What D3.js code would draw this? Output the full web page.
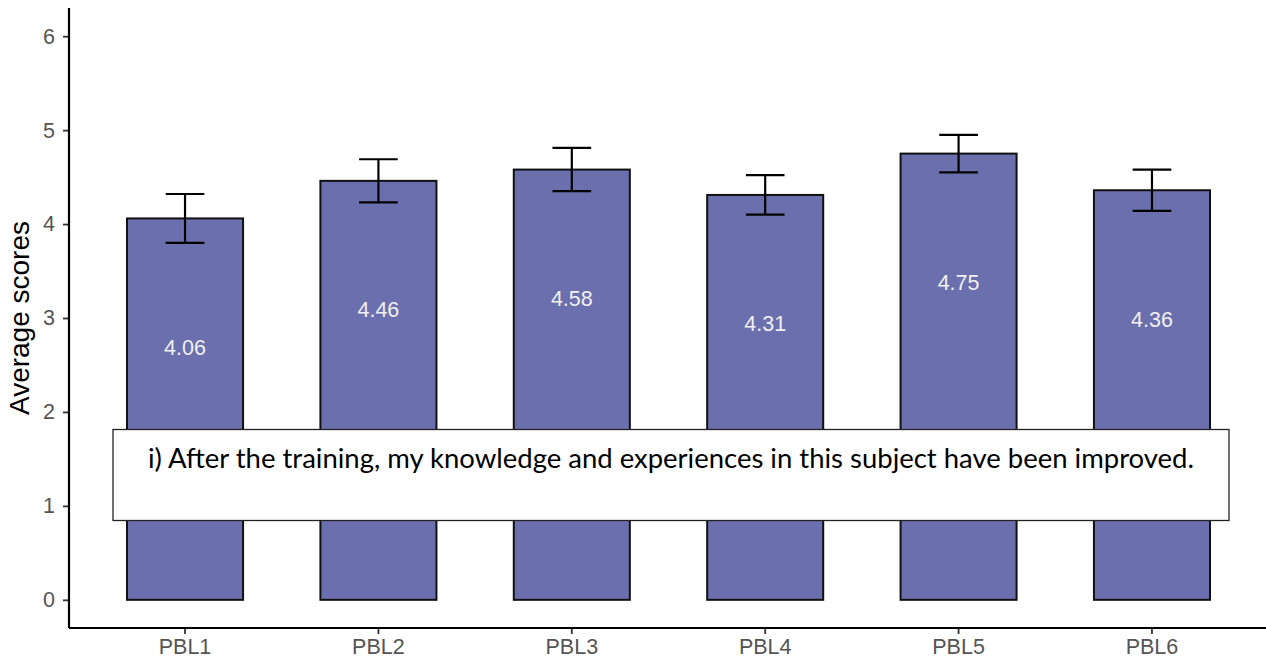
<!DOCTYPE html>
<html>
<head>
<meta charset="utf-8">
<script src="https://cdn.jsdelivr.net/npm/d3@7"></script>
<style>
  html, body { margin: 0; padding: 0; background: #fff; }
  svg { display: block; }
</style>
</head>
<body>
<div id="chart"></div>
<script>
// values
const categories = ['PBL1', 'PBL2', 'PBL3', 'PBL4', 'PBL5', 'PBL6'];
const means = [4.06, 4.46, 4.58, 4.31, 4.75, 4.36];
const errors = [0.26, 0.23, 0.23, 0.21, 0.20, 0.22];
const yTicks = [0, 1, 2, 3, 4, 5, 6];
const caption = 'i) After the training, my knowledge and experiences in this subject have been improved.';

const width = 1266, height = 661;
const panel = { left: 69, right: 1268, top: 8, bottom: 628 };
const sans = '"Liberation Sans", Arial, sans-serif';

const svg = d3.select('#chart').append('svg')
    .attr('width', width)
    .attr('height', height);

const x = d3.scaleBand()
    .domain(categories)
    .range([panel.left, panel.right])
    .paddingInner(0.4)
    .paddingOuter(0.3);

const y = d3.scaleLinear()
    .domain([-0.3, 6.3])
    .range([panel.bottom, panel.top]);

const rows = categories.map((c, i) => ({ cat: c, mean: means[i], err: errors[i] }));
const cx = d => x(d.cat) + x.bandwidth() / 2;

// bars
svg.append('g').selectAll('rect')
    .data(rows)
    .enter().append('rect')
    .attr('x', d => x(d.cat))
    .attr('y', d => y(d.mean))
    .attr('width', x.bandwidth())
    .attr('height', d => y(0) - y(d.mean))
    .attr('fill', '#6b6fae')
    .attr('stroke', '#111')
    .attr('stroke-width', 2);

// error bars
const capW = x.step() * 0.2;
const eb = svg.append('g')
    .attr('stroke', '#000')
    .attr('stroke-width', 2.2)
    .selectAll('g')
    .data(rows)
    .enter().append('g');
eb.append('line')
    .attr('x1', cx).attr('x2', cx)
    .attr('y1', d => y(d.mean + d.err))
    .attr('y2', d => y(d.mean - d.err));
eb.append('line')
    .attr('x1', d => cx(d) - capW / 2)
    .attr('x2', d => cx(d) + capW / 2)
    .attr('y1', d => y(d.mean + d.err))
    .attr('y2', d => y(d.mean + d.err));
eb.append('line')
    .attr('x1', d => cx(d) - capW / 2)
    .attr('x2', d => cx(d) + capW / 2)
    .attr('y1', d => y(d.mean - d.err))
    .attr('y2', d => y(d.mean - d.err));

// value labels inside bars
svg.append('g').selectAll('text')
    .data(rows)
    .enter().append('text')
    .attr('x', cx)
    .attr('y', d => y(d.mean - 1.37))
    .attr('dy', '0.36em')
    .attr('text-anchor', 'middle')
    .attr('fill', '#f0f0f0')
    .style('font-family', sans)
    .style('font-size', '21.5px')
    .text(d => d.mean.toFixed(2));

// axes
const yAxis = svg.append('g')
    .attr('transform', `translate(${panel.left},0)`)
    .call(d3.axisLeft(y).tickValues(yTicks).tickSize(6).tickPadding(8).tickFormat(d3.format('d')));
const xAxis = svg.append('g')
    .attr('transform', `translate(0,${panel.bottom})`)
    .call(d3.axisBottom(x).tickSize(6).tickPadding(5));

[yAxis, xAxis].forEach(g => {
    g.select('.domain').remove();
    g.selectAll('.tick line').attr('stroke', '#333').attr('stroke-width', 1.8);
    g.selectAll('.tick text')
        .attr('fill', '#555')
        .style('font-family', sans)
        .style('font-size', '21.5px');
});

svg.append('line')
    .attr('x1', panel.left).attr('x2', panel.left)
    .attr('y1', panel.top).attr('y2', panel.bottom)
    .attr('stroke', '#000').attr('stroke-width', 2.2);
svg.append('line')
    .attr('x1', panel.left).attr('x2', width)
    .attr('y1', panel.bottom).attr('y2', panel.bottom)
    .attr('stroke', '#000').attr('stroke-width', 2.2);

svg.append('text')
    .attr('transform', `translate(29,${(panel.top + panel.bottom) / 2}) rotate(-90)`)
    .attr('text-anchor', 'middle')
    .attr('fill', '#000')
    .style('font-family', sans)
    .style('font-size', '28px')
    .text('Average scores');

// caption box pasted over the plot
svg.append('rect')
    .attr('x', 113).attr('y', 429.5)
    .attr('width', 1116).attr('height', 91)
    .attr('fill', '#fff')
    .attr('stroke', '#222')
    .attr('stroke-width', 1.3);
svg.append('text')
    .attr('x', 671).attr('y', 468)
    .attr('text-anchor', 'middle')
    .attr('fill', '#000')
    .attr('textLength', 1046)
    .attr('lengthAdjust', 'spacingAndGlyphs')
    .style('font-family', 'Lato, "Open Sans", sans-serif')
    .style('font-size', '26px')
    .text(caption);
</script>
</body>
</html>
